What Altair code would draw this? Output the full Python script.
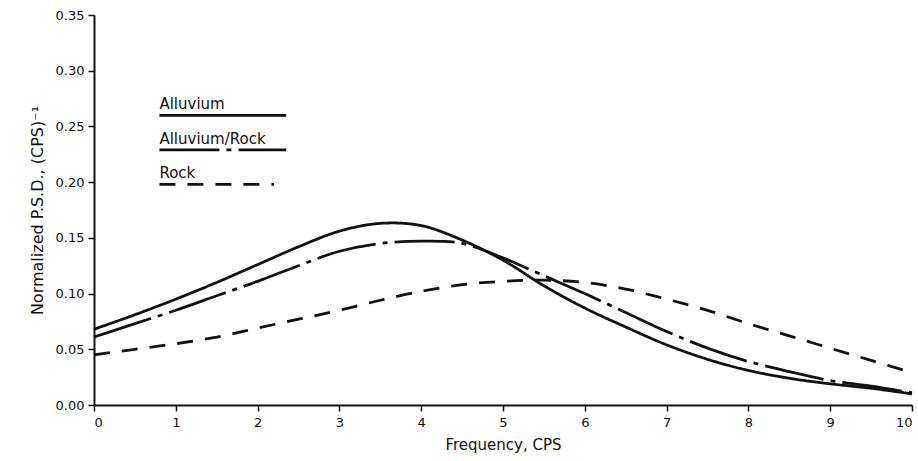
import altair as alt
import pandas as pd

freq = [0, 0.5, 1, 1.5, 2, 2.5, 3, 3.5, 4, 4.5, 5, 5.5, 6, 6.5, 7, 7.5, 8, 8.5, 9, 9.5, 10]
alluvium = [0.068, 0.081, 0.095, 0.110, 0.126, 0.142, 0.156, 0.163, 0.161, 0.148, 0.130, 0.107,
            0.087, 0.070, 0.054, 0.041, 0.031, 0.024, 0.019, 0.015, 0.010]
alluvium_rock = [0.061, 0.073, 0.085, 0.098, 0.111, 0.125, 0.138, 0.145, 0.147, 0.145, 0.132, 0.116,
                 0.100, 0.083, 0.066, 0.051, 0.039, 0.030, 0.022, 0.017, 0.011]
rock = [0.045, 0.050, 0.055, 0.061, 0.069, 0.077, 0.085, 0.094, 0.102, 0.108, 0.111, 0.112,
        0.110, 0.104, 0.095, 0.085, 0.073, 0.062, 0.051, 0.040, 0.029]

series_names = ["Alluvium", "Alluvium/Rock", "Rock"]
dash_patterns = [[1, 0], [60, 7, 5, 7], [16, 12]]

legend_y = [0.26, 0.229, 0.198]
legend_x_start = [0.8, 0.8, 0.8]
legend_x_end = [2.35, 2.35, 2.2]

rows = []
for name, vals in zip(series_names, [alluvium, alluvium_rock, rock]):
    for f, v in zip(freq, vals):
        rows.append({"freq": f, "psd": v, "series": name})
df = pd.DataFrame(rows)

leg = pd.DataFrame({"series": series_names, "x": legend_x_start, "x2": legend_x_end, "y": legend_y})

FONT = "DejaVu Sans"
dash_scale = alt.Scale(domain=series_names, range=dash_patterns)

x_enc = alt.X("freq:Q", scale=alt.Scale(domain=[0, 10], nice=False),
              axis=alt.Axis(values=list(range(0, 11)), format="d", title="Frequency, CPS",
                            titlePadding=8, labelPadding=5))
y_enc = alt.Y("psd:Q", scale=alt.Scale(domain=[0, 0.35], nice=False),
              axis=alt.Axis(values=[0, 0.05, 0.1, 0.15, 0.2, 0.25, 0.3, 0.35], format=".2f",
                            title="Normalized P.S.D., (CPS)\u207b\u00b9", titlePadding=10,
                            titleFontSize=16, labelPadding=4))

lines = alt.Chart(df).mark_line(color="#111", strokeWidth=2.8, interpolate="catmull-rom").encode(
    x=x_enc, y=y_enc,
    strokeDash=alt.StrokeDash("series:N", scale=dash_scale, legend=None),
    detail="series:N",
)

leg_lines = alt.Chart(leg).mark_rule(color="#111", strokeWidth=2.8).encode(
    x=alt.X("x:Q"), x2="x2:Q", y=alt.Y("y:Q"),
    strokeDash=alt.StrokeDash("series:N", scale=dash_scale, legend=None),
)

leg_text = alt.Chart(leg).mark_text(align="left", baseline="bottom", dy=-3, font=FONT,
                                    fontSize=15, color="#111").encode(
    x="x:Q", y="y:Q", text="series:N",
)

chart = alt.layer(lines, leg_lines, leg_text).properties(
    width=818, height=390,
    padding={"left": 94, "top": 15, "right": 6, "bottom": 56},
    autosize=alt.AutoSizeParams(type="none"),
    background="white",
).configure_view(stroke=None).configure_axis(
    grid=False, domainColor="#111", domainWidth=2, tickColor="#111", tickWidth=1.5, tickSize=6,
    labelFont=FONT, labelFontSize=13, labelColor="#111", titleFont=FONT, titleFontSize=15,
    titleFontWeight="normal", titleColor="#111",
)

chart.save("out.html", embed_options={"renderer": "svg", "actions": False})
